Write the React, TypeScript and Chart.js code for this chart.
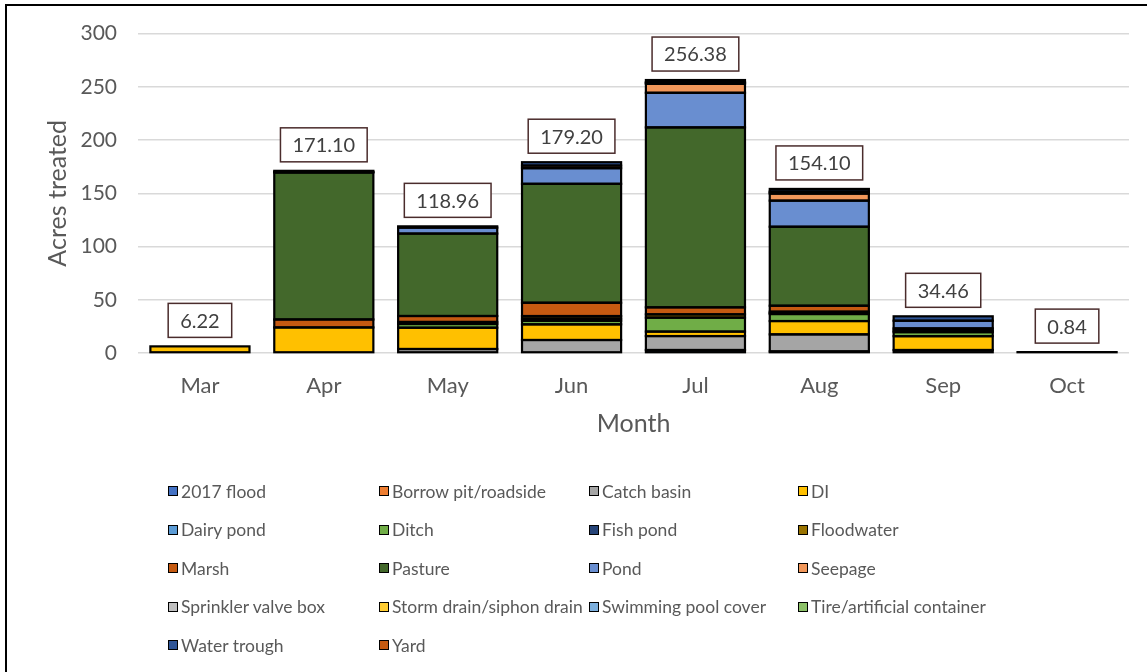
import { useEffect, useRef } from "react";
import { Chart, registerables } from "chart.js";

Chart.register(...registerables);

// Months on the category axis
const months = ["Mar", "Apr", "May", "Jun", "Jul", "Aug", "Sep", "Oct"];

// Acres treated per habitat type, one value per month (Mar..Oct)
const flood2017 = [0, 0, 0, 0, 2.8, 0, 0, 0];
const borrowPit = [0, 0, 0, 0, 0, 1.5, 0, 0];
const catchBasin = [0, 0, 3.75, 12.2, 13.1, 16.0, 2.8, 0];
const di = [6.22, 24.0, 20.0, 14.7, 4.2, 12.5, 13.0, 0];
const dairyPond = [0, 0, 0, 0, 0, 0, 0, 0];
const ditch = [0, 0, 3.5, 3.4, 13.1, 6.6, 3.8, 0];
const fishPond = [0, 0, 0, 2.0, 0, 1.0, 1.5, 0];
const floodwater = [0, 0, 1.9, 2.4, 3.1, 1.2, 2.0, 0];
const marsh = [0, 7.5, 5.6, 12.5, 6.6, 5.6, 0, 0];
const pasture = [0, 138.0, 77.41, 111.7, 169.0, 74.2, 0, 0];
const pond = [0, 0, 5.6, 14.7, 32.5, 24.5, 7.2, 0];
const seepage = [0, 0.6, 0, 2.4, 8.4, 6.6, 0, 0];
const sprinklerBox = [0, 0, 0, 0, 0.8, 1.0, 0, 0.84];
const stormDrain = [0, 0, 0, 0, 0, 0, 0, 0];
const poolCover = [0, 0, 0, 0, 0.9, 1.0, 0, 0];
const tireContainer = [0, 0, 0, 0, 0, 0, 0, 0];
const waterTrough = [0, 1.0, 1.2, 3.2, 1.88, 2.4, 4.16, 0];
const yard = [0, 0, 0, 0, 0, 0, 0, 0];

// Series names, stacked bottom to top in this order
const seriesNames = [
  "2017 flood", "Borrow pit/roadside", "Catch basin", "DI",
  "Dairy pond", "Ditch", "Fish pond", "Floodwater",
  "Marsh", "Pasture", "Pond", "Seepage",
  "Sprinkler valve box", "Storm drain/siphon drain", "Swimming pool cover", "Tire/artificial container",
  "Water trough", "Yard",
];

const seriesValues = [
  flood2017, borrowPit, catchBasin, di,
  dairyPond, ditch, fishPond, floodwater,
  marsh, pasture, pond, seepage,
  sprinklerBox, stormDrain, poolCover, tireContainer,
  waterTrough, yard,
];

const seriesColors = [
  "#4472C4", "#ED7D31", "#A5A5A5", "#FFC000",
  "#5B9BD5", "#70AD47", "#264478", "#997300",
  "#C55A11", "#43682B", "#698ED0", "#F1975A",
  "#BFBFBF", "#FFCD33", "#7CAFDD", "#8CC168",
  "#2F5597", "#C55A11",
];

const FONT = "Lato, 'Open Sans', sans-serif";
const TEXT = "#595959";

// Monthly totals shown in the boxes above the bars
const totals = months.map((_, i) => seriesValues.reduce((s, arr) => s + arr[i], 0));

// Black outline centred on every segment edge, so even very thin segments show as a line
const segmentOutlinePlugin = {
  id: "segmentOutline",
  afterDatasetsDraw(chart: any) {
    const { ctx } = chart;
    ctx.save();
    ctx.strokeStyle = "#000000";
    ctx.lineWidth = 2.2;
    chart.data.datasets.forEach((_: any, di: number) => {
      const meta = chart.getDatasetMeta(di);
      meta.data.forEach((bar: any, i: number) => {
        const v = chart.data.datasets[di].data[i];
        if (v === null || v === undefined) return;
        const { x, y, base, width } = bar.getProps(["x", "y", "base", "width"], true);
        const top = Math.min(y, base);
        const h = Math.abs(base - y);
        ctx.strokeRect(x - width / 2, top, width, h);
      });
    });
    ctx.restore();
  },
};

const totalsLabelPlugin = {
  id: "totalsLabel",
  afterDatasetsDraw(chart: any) {
    const { ctx } = chart;
    const xs = chart.scales.x;
    const ys = chart.scales.y;
    ctx.save();
    ctx.font = `20px ${FONT}`;
    totals.forEach((t, i) => {
      const cx = xs.getPixelForValue(i);
      const cy = ys.getPixelForValue(t) - 26;
      const text = t.toFixed(2);
      const w = ctx.measureText(text).width + 24;
      const h = 34;
      ctx.fillStyle = "#FFFFFF";
      ctx.fillRect(cx - w / 2, cy - h / 2, w, h);
      ctx.strokeStyle = "#4A2C2C";
      ctx.lineWidth = 1.5;
      ctx.strokeRect(cx - w / 2, cy - h / 2, w, h);
      ctx.fillStyle = "#404040";
      ctx.textAlign = "center";
      ctx.textBaseline = "middle";
      ctx.fillText(text, cx, cy + 1);
    });
    ctx.restore();
  },
};

// Left edge of each legend column's text, and the centre line of each legend row
const legendTextX = [182, 393, 603, 812];
const legendRows = [491, 529.5, 568, 606.5, 645];

const CANVAS_H = 445;
const PAD_BOTTOM = 5.6;

export default function App() {
  const canvasRef = useRef<HTMLCanvasElement | null>(null);

  useEffect(() => {
    if (!canvasRef.current) return;
    const chart = new Chart(canvasRef.current, {
      type: "bar",
      data: {
        labels: months,
        datasets: seriesNames.map((name, k) => ({
          label: name,
          data: seriesValues[k].map((v) => (v === 0 ? null : v)),
          backgroundColor: seriesColors[k],
          borderWidth: 0,
          categoryPercentage: 0.8,
          barPercentage: 1.0,
        })),
      },
      options: {
        responsive: false,
        animation: false,
        layout: { padding: { top: 33, right: 18, bottom: PAD_BOTTOM, left: 0 } },
        plugins: {
          legend: { display: false },
          tooltip: { enabled: false },
        },
        scales: {
          x: {
            stacked: true,
            grid: { display: false, drawTicks: false },
            border: { display: false },
            ticks: { padding: 20, color: TEXT, font: { family: FONT, size: 22 } },
            title: {
              display: true,
              text: "Month",
              color: TEXT,
              font: { family: FONT, size: 25 },
              padding: { top: 10, bottom: 0 },
            },
            afterFit: (scale: any) => {
              scale.height = CANVAS_H - PAD_BOTTOM - 353;
            },
          },
          y: {
            stacked: true,
            min: 0,
            max: 300,
            ticks: { stepSize: 50, padding: 21, color: TEXT, font: { family: FONT, size: 21 } },
            grid: { color: "#D9D9D9", lineWidth: 1.5, drawTicks: false },
            border: { display: false },
            title: {
              display: true,
              text: "Acres treated",
              color: TEXT,
              font: { family: FONT, size: 25 },
              padding: { top: 43, bottom: 0 },
            },
            afterFit: (scale: any) => {
              scale.width = 138;
            },
          },
        },
      },
      plugins: [segmentOutlinePlugin, totalsLabelPlugin],
    });
    return () => chart.destroy();
  }, []);

  return (
    <div>
      <div
        style={{
          position: "fixed",
          left: 5,
          top: 4,
          width: 1300,
          height: 800,
          border: "2px solid #000",
          boxSizing: "border-box",
        }}
      />
      <canvas
        ref={canvasRef}
        width={1147}
        height={CANVAS_H}
        style={{ position: "fixed", left: 0, top: 0, display: "block" }}
      />
      {seriesNames.map((name, k) => {
        const col = k % 4;
        const row = Math.floor(k / 4);
        return (
          <div
            key={name}
            style={{
              position: "fixed",
              left: legendTextX[col] - 14,
              top: legendRows[row] - 12,
              height: 24,
              display: "flex",
              alignItems: "center",
              fontFamily: FONT,
              fontSize: 17.5,
              color: TEXT,
              whiteSpace: "nowrap",
            }}
          >
            <span
              style={{
                display: "inline-block",
                width: 8,
                height: 8,
                background: seriesColors[k],
                border: "1.5px solid #000",
                marginRight: 3,
                boxSizing: "content-box",
              }}
            />
            {name}
          </div>
        );
      })}
    </div>
  );
}
